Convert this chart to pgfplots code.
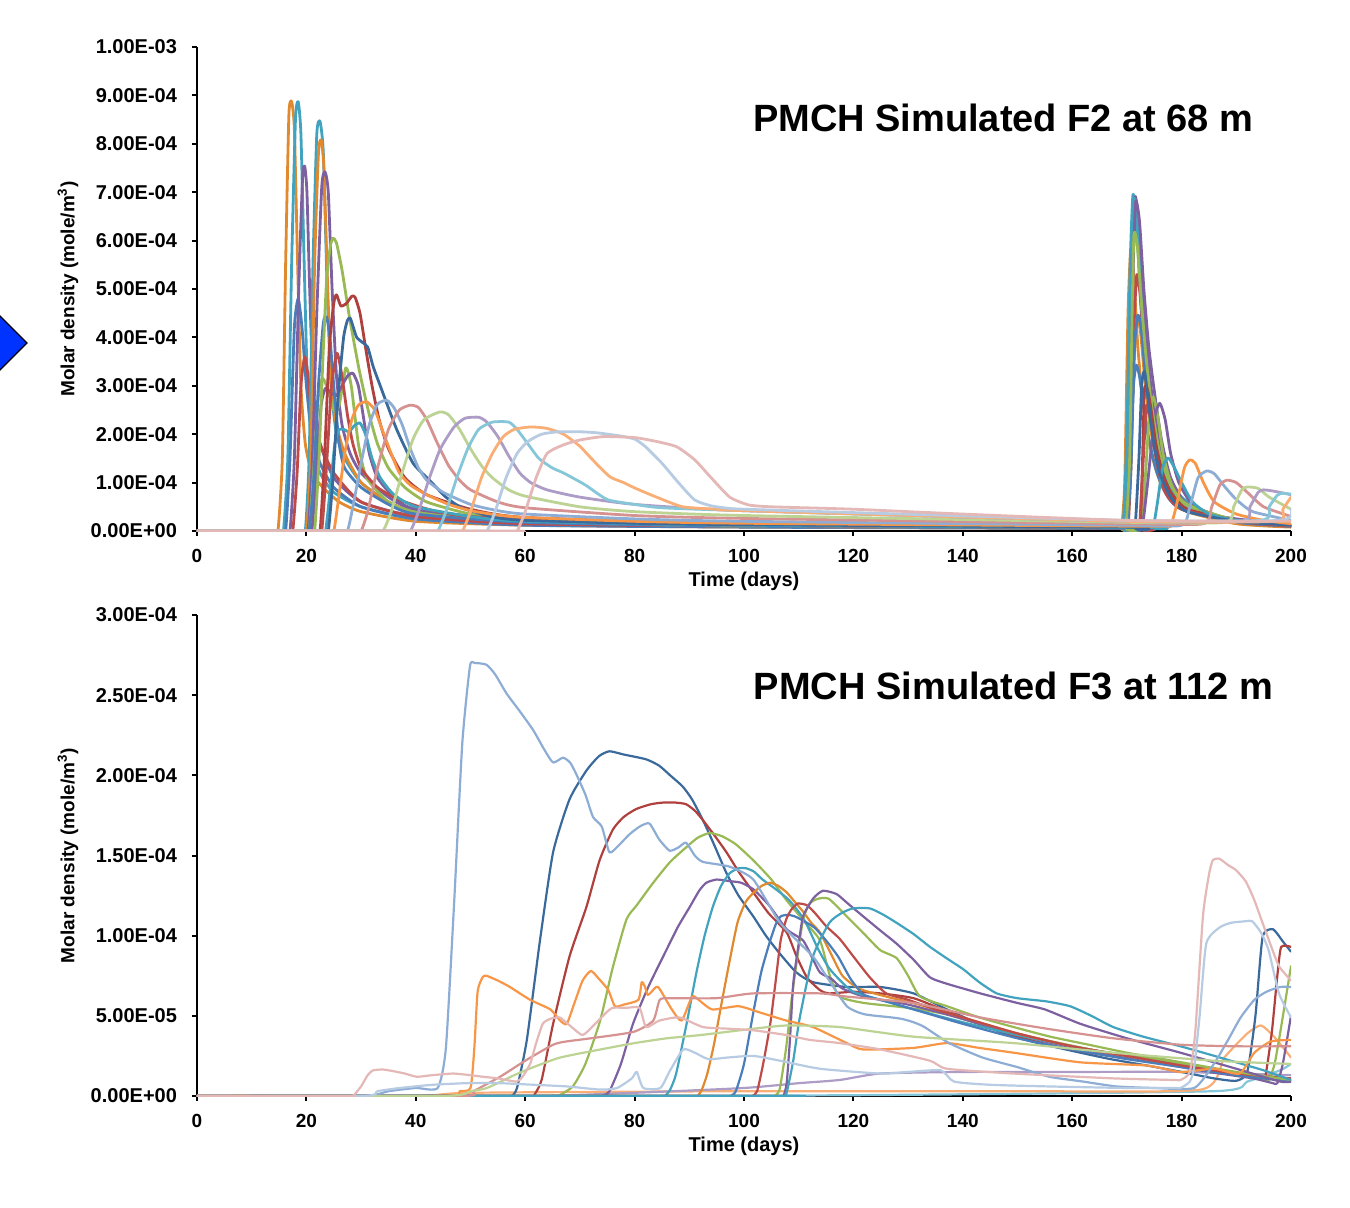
\documentclass[border=0pt]{standalone}
\usepackage{fontspec}
\setmainfont{Liberation Sans}
\usepackage{pgfplots}
\pgfplotsset{compat=1.18}
\definecolor{cB}{HTML}{4A7EBB}
\definecolor{cBd}{HTML}{3A6A9C}
\definecolor{cR}{HTML}{BE4B48}
\definecolor{cRd}{HTML}{B0403D}
\definecolor{cG}{HTML}{98B954}
\definecolor{cP}{HTML}{7D60A0}
\definecolor{cT}{HTML}{41A3BE}
\definecolor{cO}{HTML}{F79646}
\definecolor{cOd}{HTML}{E0892E}
\definecolor{cLB}{HTML}{8DADD5}
\definecolor{cLR}{HTML}{D69290}
\definecolor{cLG}{HTML}{BCD393}
\definecolor{cLP}{HTML}{AD9CC6}
\definecolor{cLT}{HTML}{86C6D9}
\definecolor{cLO}{HTML}{F9AE76}
\definecolor{cGB}{HTML}{B7CBE3}
\definecolor{cPP}{HTML}{E3B8B6}
\definecolor{diam}{HTML}{0033FF}
\pgfplotsset{
  common/.style={
    scale only axis, width=547pt, xmin=0, xmax=200,
    axis lines=left, axis line style={-, line width=1pt},
    tick align=outside, major tick length=2.5pt,
    tick style={line width=1pt, black},
    xtick={0,20,...,200},
    /pgf/number format/assume math mode=true,
    xticklabel style={font=\bfseries\fontsize{9.5}{11}\selectfont, yshift=-3pt},
    yticklabel style={font=\bfseries\fontsize{10}{12}\selectfont, xshift=-4pt},
    xlabel={Time (days)},
    ylabel={Molar density (mole/m\textsuperscript{3})},
    xlabel style={font=\bfseries\fontsize{10}{12}\selectfont, at={(axis description cs:0.5,-0.105)}, anchor=center},
    ylabel style={font=\bfseries\fontsize{9.5}{11}\selectfont, at={(axis description cs:-0.118,0.5)}, anchor=center},
    every axis plot/.append style={smooth, tension=0.35, line join=round, line cap=round},
  }
}
\begin{document}
\begin{tikzpicture}
\path[use as bounding box] (0,0) rectangle (675pt,-604pt);
\filldraw[fill=diam, draw=black, line width=0.6pt] (-13.5pt,-171.5pt) -- (0,-158pt) -- (13.5pt,-171.5pt) -- (0,-185pt) -- cycle;
% ---------------- top panel ----------------
\begin{axis}[common, at={(98.5pt,-265.5pt)}, anchor=south west, height=242pt,
  ymin=0, ymax=10, ytick={0,1,...,10},
  yticklabels={0.00E+00,1.00E-04,2.00E-04,3.00E-04,4.00E-04,5.00E-04,6.00E-04,7.00E-04,8.00E-04,9.00E-04,1.00E-03},
  every axis plot/.append style={line width=1.4pt}]
\addplot[cOd] coordinates {(0,0)(14,0)(14.8,0)(15.6,1.5)(16.2,5.5)(16.8,8.6)(17.3,8.87)(17.8,8.3)(18.4,5.5)(19,3)(19.8,1.8)(21,1.2)(23,0.9)(26,0.6)(30,0.4)(40,0.2)(60,0.12)(100,0.08)(168.2,0.05)(169,0.05)(169.6,1)(170.2,4.5)(170.7,5.8)(171.3,5.2)(172,3.8)(173,2.6)(174.5,1.6)(176.5,0.9)(180,0.45)(190,0.15)(200,0.08)};
\addplot[cT] coordinates {(0,0)(15,0)(15.8,0)(16.6,1.5)(17.3,5.5)(18,8.5)(18.5,8.87)(19,8.2)(19.6,5.5)(20.2,3)(21,1.8)(22.5,1.2)(25,0.8)(30,0.5)(40,0.25)(60,0.15)(100,0.1)(168.5,0.06)(169.3,0.06)(170,2)(170.6,5.5)(171.1,6.94)(171.7,6.5)(172.4,5)(173.2,3.8)(174.2,3.0)(175.5,2.0)(177,1.3)(180,0.7)(185,0.35)(190,0.2)(200,0.1)};
\addplot[cB] coordinates {(0,0)(15.4,0)(16.2,0)(17,1.5)(17.8,4.2)(18.5,4.8)(19.2,4.2)(20,3)(21,2)(22.5,1.4)(25,0.9)(30,0.5)(40,0.25)(60,0.12)(100,0.08)(169,0.05)(169.8,0.05)(170.6,1.5)(171.2,3)(171.7,3.43)(172.3,3.2)(173,2.6)(174,1.9)(175.5,1.2)(177.5,0.7)(180,0.45)(190,0.18)(200,0.1)};
\addplot[cP] coordinates {(0,0)(16.2,0)(17,0)(17.8,1.5)(18.6,5)(19.3,7.3)(19.7,7.53)(20.1,7)(20.6,5)(21.2,3)(21.8,2.4)(22.5,1.8)(25,1.1)(30,0.6)(40,0.3)(60,0.15)(100,0.1)(168.8,0.06)(169.6,0.06)(170.3,1.5)(170.9,5.5)(171.5,6.9)(172.1,6.4)(172.8,5.0)(173.6,3.8)(174.6,2.8)(176,1.8)(178,1.0)(181,0.55)(190,0.2)(200,0.1)};
\addplot[cR] coordinates {(0,0)(16.7,0)(17.5,0)(18.3,1.2)(19,3)(19.7,3.6)(20.3,3.2)(21,2.4)(22.5,1.8)(25,1.2)(30,0.6)(40,0.3)(60,0.15)(100,0.1)(169.4,0.06)(170.2,0.06)(170.8,1.5)(171.3,4.2)(171.8,5.29)(172.4,4.9)(173.2,3.6)(174.2,2.6)(175.5,1.7)(177.5,1.0)(180,0.6)(190,0.2)(200,0.1)};
\addplot[cT] coordinates {(0,0)(19,0)(19.8,0)(20.5,1.5)(21.2,5.5)(21.9,8.2)(22.5,8.46)(23.1,7.8)(23.8,5)(24.5,3)(25.5,2.0)(27,1.5)(30,1.0)(35,0.6)(40,0.4)(60,0.2)(100,0.1)(168.7,0.06)(169.5,0.06)(170.2,1.5)(170.8,5)(171.3,6.85)(171.9,6.3)(172.6,4.8)(173.5,3.4)(174.5,2.5)(176,1.6)(178,0.9)(181,0.5)(190,0.2)(200,0.1)};
\addplot[cOd] coordinates {(0,0)(19.2,0)(20,0)(20.8,1.5)(21.5,5.5)(22.2,7.8)(22.7,8.08)(23.2,7.5)(23.9,5)(24.6,3)(25.5,2.2)(27,1.6)(30,1.0)(35,0.6)(40,0.4)(60,0.2)(100,0.1)(169.1,0.06)(169.9,0.06)(170.6,1.5)(171.3,3.5)(171.9,4.4)(172.5,4.1)(173.3,3.1)(174.5,2.0)(176,1.2)(178,0.7)(181,0.4)(190,0.16)(200,0.1)};
\addplot[cP] coordinates {(0,0)(19.5,0)(20.3,0)(21.1,1.5)(21.9,4.5)(22.8,7.1)(23.4,7.42)(24,7)(24.7,5)(25.5,3.2)(26.5,2.2)(28,1.6)(30,1.2)(35,0.7)(40,0.45)(60,0.2)(100,0.1)(169,0.06)(169.8,0.06)(170.5,1.5)(171.1,5.2)(171.6,6.8)(172.3,6.4)(173.1,5.0)(174,3.8)(175,2.9)(176.3,1.9)(178,1.1)(181,0.55)(190,0.2)(200,0.1)};
\addplot[cG] coordinates {(0,0)(19.7,0)(20.5,0)(21.3,1.2)(22.2,2.8)(23,3.15)(24,2.9)(25,2.5)(26,2.6)(27.2,3.37)(28.2,3)(29.5,1.8)(31,1.1)(35,0.6)(40,0.4)(60,0.2)(100,0.1)(171.8,0.07)(172.5,0.07)(173.3,1)(174.1,2.4)(174.8,2.77)(175.6,2.4)(176.6,1.6)(178,1)(180,0.6)(185,0.3)(190,0.2)(200,0.1)};
\addplot[cP] coordinates {(0,0)(20.2,0)(21,0)(21.8,1.2)(22.7,2.6)(23.5,2.95)(24.5,2.85)(25.5,2.8)(26.5,3)(27.5,3.2)(28.5,3.26)(29.5,3)(30.5,2.3)(31.5,1.6)(33,1.1)(36,0.7)(40,0.45)(60,0.2)(100,0.12)(172,0.07)(172.8,0.07)(173.8,1)(175,2.3)(176,2.64)(177,2.3)(178,1.6)(179.5,1)(182,0.55)(187,0.3)(200,0.12)};
\addplot[cB] coordinates {(0,0)(19.7,0)(20.5,0)(21.3,1)(22.2,3)(23.1,4.3)(23.7,4.42)(24.3,4)(25,3)(26,1.8)(27,1.3)(30,0.9)(35,0.55)(40,0.35)(60,0.18)(100,0.1)(169.2,0.06)(170,0.06)(170.7,1.2)(171.4,3.8)(172,4.46)(172.6,4.2)(173.4,3.2)(174.5,2.2)(176,1.4)(178,0.8)(181,0.45)(190,0.18)(200,0.1)};
\addplot[cG] coordinates {(0,0)(20.7,0)(21.5,0)(22.3,1.5)(23,3.5)(23.7,5.2)(24.4,5.9)(24.9,6.05)(25.5,5.95)(26.5,5.4)(27.9,4.4)(29.7,3.3)(31.5,2.4)(33,1.8)(35,1.3)(38,0.9)(42,0.6)(50,0.35)(60,0.22)(100,0.12)(169,0.07)(169.8,0.07)(170.5,1.5)(171,4.8)(171.3,6.15)(171.9,5.9)(172.6,4.8)(173.5,3.6)(174.5,2.6)(176,1.6)(178,0.95)(181,0.55)(190,0.22)(200,0.12)};
\addplot[cRd] coordinates {(0,0)(21.7,0)(22.5,0)(23.3,1.5)(24.2,3.8)(25,4.7)(25.5,4.88)(26.3,4.65)(27.3,4.7)(28.3,4.85)(28.9,4.83)(29.8,4.5)(30.8,3.8)(32,3)(33.3,2.3)(35,1.7)(38,1.1)(42,0.75)(50,0.45)(60,0.28)(100,0.14)(171.7,0.1)(172.4,0.1)(172.8,1.2)(173.2,2.9)(173.7,2.95)(174.3,2.6)(175.3,1.8)(176.5,1.2)(178,0.8)(181,0.45)(190,0.22)(200,0.12)};
\addplot[cR] coordinates {(0,0)(22,0)(22.8,0)(23.6,1.2)(24.6,3)(25.6,3.67)(26.5,3.2)(27.5,2.4)(28.5,1.8)(30,1.3)(33,0.9)(38,0.6)(50,0.3)(100,0.12)(171.6,0.07)(172.3,0.07)(173,1.5)(173.6,2.6)(174.3,2.3)(175.5,1.4)(177,0.8)(180,0.45)(190,0.2)(200,0.1)};
\addplot[cT] coordinates {(0,0)(22.7,0)(23.5,0)(24.3,0.8)(25.2,1.8)(25.9,2.09)(26.8,2.1)(27.8,2.05)(28.8,2.18)(29.8,2.23)(30.8,2.0)(32,1.5)(33.5,1.1)(36,0.75)(40,0.5)(50,0.3)(60,0.2)(100,0.12)(174,0.07)(174.8,0.07)(175.6,0.6)(176.5,1.3)(177.5,1.51)(178.5,1.35)(180,1)(182,0.6)(185,0.35)(190,0.22)(200,0.12)};
\addplot[cBd] coordinates {(0,0)(23.2,0)(24,0)(24.8,1)(25.8,2.8)(26.8,4)(27.5,4.35)(28,4.4)(28.6,4.2)(29.2,4.0)(30.2,3.9)(31.2,3.8)(32.2,3.4)(33.5,3.0)(36.5,2.1)(39.5,1.4)(42.5,1.05)(45.5,0.7)(48.6,0.47)(54.6,0.28)(60,0.22)(80,0.16)(100,0.13)(170.8,0.08)(171.5,0.08)(172.2,1.5)(172.7,3)(173.2,3.3)(173.8,2.8)(174.8,1.9)(176,1.2)(178,0.7)(181,0.4)(190,0.2)(200,0.12)};
\addplot[cO] coordinates {(0,0)(24,0)(25,0)(25.8,0.6)(27,1.6)(28.3,2.3)(29.5,2.6)(31,2.67)(32.5,2.5)(34,2.05)(35.5,1.6)(37,1.2)(39,0.95)(42,0.75)(46,0.55)(50,0.42)(55,0.33)(60,0.28)(80,0.2)(100,0.16)(170,0.1)(177.3,0.1)(178,0.1)(179,0.5)(180.5,1.3)(181.5,1.47)(182.5,1.4)(184,1.0)(186,0.6)(190,0.35)(195,0.22)(200,0.15)};
\addplot[cLB] coordinates {(0,0)(26.3,0)(27.5,0)(28.5,0.5)(30,1.4)(31.5,2.2)(33,2.62)(34.7,2.7)(36,2.55)(37.5,2.2)(39,1.7)(40.5,1.3)(42,1.05)(45,0.8)(50,0.55)(55,0.42)(60,0.35)(80,0.25)(100,0.2)(170,0.12)(180,0.12)(181.5,0.5)(183,1.1)(184.6,1.24)(186,1.18)(188,0.9)(190,0.65)(193,0.4)(200,0.22)};
\addplot[cLR] coordinates {(0,0)(28.8,0)(30,0)(31.2,0.4)(33,1.3)(35,2.1)(37,2.5)(39,2.6)(40.5,2.55)(42,2.3)(44,1.8)(46,1.35)(48,1.05)(50,0.85)(55,0.6)(60,0.48)(80,0.32)(100,0.26)(170,0.15)(184,0.15)(185.5,0.5)(187,0.95)(188.3,1.05)(190,1.0)(192,0.8)(195,0.5)(200,0.3)};
\addplot[cLG] coordinates {(0,0)(32.5,0)(34,0)(35.5,0.4)(37.5,1.2)(39.5,1.9)(41.5,2.3)(44.4,2.46)(46,2.4)(48,2.1)(50,1.7)(52,1.35)(54,1.1)(57,0.85)(60,0.72)(70,0.5)(80,0.4)(100,0.32)(170,0.18)(188,0.18)(189.5,0.5)(191,0.85)(192,0.91)(194,0.88)(196,0.7)(200,0.45)};
\addplot[cLP] coordinates {(0,0)(37.5,0)(39,0)(40.5,0.4)(42.5,1.1)(44.5,1.7)(47,2.15)(49,2.33)(51.5,2.35)(53,2.25)(55,1.95)(57,1.55)(59,1.2)(61,1.0)(64,0.85)(70,0.7)(80,0.55)(100,0.42)(170,0.2)(191,0.2)(192.5,0.5)(194,0.8)(195,0.85)(197,0.82)(200,0.75)};
\addplot[cLT] coordinates {(0,0)(42.5,0)(44,0)(45.5,0.4)(47.5,1.1)(49.5,1.7)(51.5,2.1)(54,2.25)(57,2.25)(58.5,2.1)(60.5,1.8)(62.5,1.5)(65,1.3)(67,1.2)(71,0.95)(75,0.65)(80,0.55)(85,0.48)(100,0.42)(170,0.2)(194.5,0.22)(196,0.5)(197.5,0.74)(198.5,0.78)(200,0.76)};
\addplot[cLO] coordinates {(0,0)(47,0)(48.5,0)(50,0.4)(52,1.1)(54,1.6)(56,1.95)(58,2.1)(61,2.15)(64,2.12)(67,2.0)(70,1.75)(72.5,1.45)(75.5,1.12)(78,1.0)(80,0.89)(84,0.7)(88.8,0.5)(95,0.45)(100,0.42)(170,0.2)(197,0.2)(198.5,0.45)(200,0.7)};
\addplot[cGB] coordinates {(0,0)(51.5,0)(53,0)(54.5,0.4)(56.5,1.1)(58.5,1.6)(60.5,1.85)(63,2.0)(66,2.05)(70,2.05)(73,2.03)(77,1.97)(80,1.9)(82,1.74)(85,1.4)(88,1.0)(91,0.64)(94,0.52)(97,0.47)(100,0.45)(120,0.38)(170,0.22)(198,0.22)(200,0.45)};
\addplot[cPP] coordinates {(0,0)(57,0)(58.5,0)(60,0.4)(62,1.1)(64,1.6)(67,1.78)(70,1.88)(74.3,1.95)(80,1.93)(84,1.85)(87.7,1.74)(91,1.47)(94,1.1)(97.4,0.7)(100.8,0.54)(105,0.5)(120,0.45)(140,0.35)(170,0.22)(200,0.2)};
\node[font=\bfseries\fontsize{19}{22}\selectfont] at (axis cs:147.4,8.53) {PMCH Simulated F2 at 68 m};
\end{axis}
% ---------------- bottom panel ----------------
\begin{axis}[common, at={(98.5pt,-548pt)}, anchor=south west, height=240.5pt,
  ymin=0, ymax=30, ytick={0,5,...,30},
  yticklabels={0.00E+00,5.00E-05,1.00E-04,1.50E-04,2.00E-04,2.50E-04,3.00E-04},
  every axis plot/.append style={line width=1.1pt}]
\addplot[cLT] coordinates {(0,0)(60,0)(120,0.05)(185.9,0.3)(192,0.9)(198,1.6)(200,2.0)};
\addplot[cLO] coordinates {(0,0)(40,0)(50,0.2)(100,0.3)(150,0.3)(183.5,0.4)(187.8,2.4)(192,3.9)(194.5,4.4)(196.9,3.7)(200,2.4)};
\addplot[cLP] coordinates {(0,0)(60,0)(80,0.2)(100,0.5)(110,0.8)(117.5,1.0)(124.9,1.4)(140,1.5)(160,1.5)(180,1.5)(200,1.3)};
\addplot[cBd] coordinates {(0,0)(56.5,0)(57.5,0)(58.5,0.5)(60.3,3.5)(62.7,9.7)(65.1,15.2)(68.1,18.5)(71.2,20.3)(73.5,21.2)(75.4,21.5)(78,21.3)(82.1,21.0)(84.5,20.6)(86.5,20.0)(88.8,19.3)(90.5,18.5)(92.5,17.2)(94.5,15.7)(96.8,13.9)(99,12.5)(101.7,11.2)(104,10.0)(106.5,8.9)(109.6,7.7)(112.6,7.1)(118.8,6.8)(124.9,6.8)(131,6.4)(137.1,5.4)(143,4.5)(149.3,3.7)(155,3.2)(161.5,2.7)(167,2.3)(173.7,1.9)(180,1.5)(185.9,1.1)(190,0.95)(192,1.5)(193.5,5)(194.8,9.9)(196.7,10.4)(198.6,9.6)(200,9.0)};
\addplot[cRd] coordinates {(0,0)(60.5,0)(61.5,0)(63,1)(65.1,4.5)(68.1,8.7)(71.2,11.8)(73.6,14.7)(76,16.6)(78,17.4)(80.3,17.9)(83,18.2)(85.2,18.3)(87.5,18.3)(89.4,18.2)(91,17.8)(92.5,17.2)(94.5,16.3)(96.8,15.2)(99,14.0)(101.7,12.7)(104.5,11.4)(107.8,10.2)(109.5,8.8)(111.5,7.4)(113.9,6.6)(115.5,6.4)(120,6.5)(124.9,6.4)(131,6.1)(137,5.3)(143,4.5)(150,3.7)(157,3.1)(165,2.6)(172,2.3)(179.8,2.0)(186,1.6)(192,1.3)(194.5,1.2)(195.3,1.2)(196.5,4)(197.5,7.5)(198.2,9.3)(200,9.3)};
\addplot[cG] coordinates {(0,0)(65,0)(66,0)(68.7,0.6)(71,2)(73.7,4.7)(76,8)(78.5,11)(80.4,11.9)(83.4,13.3)(86.5,14.6)(89.4,15.5)(91.5,16.1)(93.7,16.4)(96,16.2)(98.5,15.7)(101.7,14.7)(105,13.5)(107.8,12.2)(111,10.9)(113.9,9.7)(115.7,7.5)(117.5,6.2)(122,5.8)(130,5.5)(137,5.1)(145,4.3)(155,3.5)(165,2.8)(175,2.3)(185,1.7)(192,1.2)(195.3,1.0)(196,1.0)(197,2)(198,3.9)(199,6)(200,8.1)};
\addplot[cP] coordinates {(0,0)(73,0)(74,0)(75.4,0.3)(77.5,2)(79.7,4.5)(82.5,6.8)(85.8,9.1)(88,10.6)(90.1,11.8)(91.8,12.8)(93.1,13.3)(95,13.5)(97.4,13.4)(99.5,13.3)(101.7,12.9)(103.2,12.4)(104.8,11.8)(107.8,10.4)(110.8,9.7)(112.5,8.6)(113.9,7.7)(116,7.3)(118,6.7)(122,6.2)(130,5.7)(138,5.0)(146,4.2)(155,3.4)(165,2.7)(175,2.1)(185,1.5)(193,1.1)(196.7,0.8)(197.5,0.8)(198.5,2)(200,5.0)};
\addplot[cT] coordinates {(0,0)(84.5,0)(85.5,0)(86.5,0.4)(87.6,1.4)(89.5,4.5)(91.3,7.7)(92.8,10)(94.3,11.8)(95.8,13.1)(97.4,13.9)(99,14.2)(100.4,14.2)(101.8,14.0)(103.4,13.5)(105.8,12.9)(108.3,12.2)(111,11.0)(113.5,9.2)(115.5,8.0)(117.6,7.2)(120,6.5)(125,6.0)(130,5.5)(140,4.6)(150,3.8)(160,3.1)(170,2.5)(180,1.9)(190,1.4)(200,1.0)};
\addplot[cOd] coordinates {(0,0)(90.5,0)(91.5,0)(92.3,0.4)(93.3,1.4)(94.5,3.2)(95.8,5.6)(97.3,8.3)(98.8,10.8)(100.3,12.1)(101.8,12.7)(103.2,13.1)(104.8,13.3)(106.3,13.1)(107.8,12.7)(109.3,12.1)(110.8,11.5)(112.3,10.8)(113.9,10.2)(116,8.8)(118,7.5)(121,6.7)(126,6.2)(132,5.7)(140,4.9)(150,3.9)(160,3.1)(170,2.5)(180,1.9)(190,1.4)(200,1.0)};
\addplot[cB] coordinates {(0,0)(96.5,0)(97.5,0)(98.5,0.3)(100,2)(101.7,5.2)(103.2,7.8)(104.8,9.7)(105.8,10.7)(106.7,11.2)(108,11.3)(109.3,11.2)(111,10.9)(112.9,10.5)(115,9.7)(117.2,8.7)(119.5,7.3)(122,6.3)(127,5.8)(133,5.2)(140,4.5)(150,3.6)(160,2.9)(170,2.3)(180,1.8)(190,1.3)(200,0.9)};
\addplot[cR] coordinates {(0,0)(100.5,0)(101.5,0)(102.4,0.3)(103.5,2)(104.8,4.5)(105.8,7.2)(106.7,9.7)(107.7,11.0)(108.6,11.6)(109.8,12.0)(111.5,11.9)(113,11.4)(115,10.6)(117.5,9.8)(120,8.7)(123,7.4)(126,6.4)(130,6.0)(135,5.4)(140,4.9)(150,3.9)(160,3.1)(170,2.5)(180,1.9)(190,1.4)(200,1.1)};
\addplot[cG] coordinates {(0,0)(104.5,0)(105.5,0)(106.5,0.4)(107.7,3)(108.7,6)(109.6,8.3)(110.8,11.0)(112,12.0)(113.5,12.3)(115.5,12.3)(118.8,11.2)(122,10.1)(124.9,9.1)(127.9,8.6)(130,7.5)(132.2,6.2)(137.1,5.6)(143,4.9)(149.3,4.3)(156,3.7)(163,3.2)(170,2.7)(180,2.1)(190,1.5)(200,1.0)};
\addplot[cP] coordinates {(0,0)(106.4,0)(107.2,0)(107.8,0.8)(108.4,3.5)(109,7.0)(110,9.5)(110.8,11.2)(112.6,12.3)(114.4,12.8)(116.9,12.6)(119,12.0)(121.8,11.2)(125,10.3)(127.9,9.5)(131,8.5)(134,7.4)(137.1,7.0)(143.2,6.4)(150,5.8)(155,5.4)(161.5,4.5)(170,3.6)(179.8,2.7)(190,1.7)(198,0.9)(200,0.9)};
\addplot[cT] coordinates {(0,0)(106.4,0)(107.2,0)(107.8,0.2)(109,2.2)(110.2,4.9)(112.6,8.7)(115.6,10.8)(117.8,11.4)(119.9,11.7)(123,11.7)(125.5,11.3)(127.9,10.8)(131,10.1)(134,9.3)(137,8.6)(140.1,7.9)(143,7.1)(146.2,6.4)(150,6.1)(155.3,5.9)(159.6,5.6)(163.5,5.0)(167.5,4.3)(173,3.7)(179.8,3.1)(185,2.6)(189,2.2)(195,1.6)(200,1.0)};
\addplot[cO] coordinates {(0,0)(45,0)(48,0.3)(50,0.5)(50.7,3)(51.3,6.5)(52.2,7.4)(52.9,7.5)(55,7.2)(57.2,6.8)(60.9,6.0)(64.6,5.4)(66.4,4.7)(67.6,4.5)(69,5.8)(70.5,7.2)(72,7.8)(73.5,7.3)(75.2,6.6)(76.4,5.6)(78,5.7)(80.7,6.0)(81.3,7.1)(81.9,6.8)(82.4,6.3)(83.1,6.5)(84.3,6.8)(86.8,5.4)(88.6,4.7)(90.5,6.2)(91.7,6.0)(94.2,5.4)(99,5.6)(103,5.2)(107.8,4.7)(112.6,4.3)(118.8,3.3)(121.8,2.9)(131,3.0)(137.1,3.3)(143,3.0)(149.3,2.7)(161.5,2.1)(173.7,1.9)(179.8,1.5)(185.9,1.7)(190.6,1.4)(193.3,2.7)(196.3,3.4)(200,3.5)};
\addplot[cLB] coordinates {(0,0)(30,0)(35,0.3)(40,0.5)(44,0.5)(45.5,3)(47,12)(48.5,22)(49.9,26.8)(50.8,27.0)(52.9,26.9)(54.5,26.3)(56.6,25.1)(59,24)(61.5,22.8)(63.5,21.6)(65.1,20.8)(66.9,21.1)(68.2,20.8)(69.3,20.1)(71,18.8)(72.4,17.4)(74,16.8)(75.4,15.2)(77,15.6)(79,16.3)(80.9,16.8)(82.7,17.0)(84.5,16.0)(86.4,15.3)(88,15.5)(89.4,15.8)(91,15.0)(92.5,14.6)(97.4,14.3)(101.7,13.5)(106.6,10.8)(112.6,8.7)(115,7.5)(118.8,5.6)(122,5.1)(127,4.9)(129,4.8)(131,4.6)(133,4.3)(137.5,3.3)(143.6,2.4)(150,1.8)(155.8,1.2)(162,0.9)(168,0.6)(175,0.5)(182.3,0.5)(185.9,2.0)(188.5,3.5)(190.8,4.9)(193.3,6.0)(195.5,6.5)(198,6.8)(200,6.8)};
\addplot[cLR] coordinates {(0,0)(48,0)(50.5,0.3)(55.4,1.2)(60,2.2)(65.1,3.2)(67.5,3.4)(72,3.6)(79.8,4.0)(83.4,4.7)(84.6,6.0)(86.6,6.1)(94.9,6.1)(101.7,6.4)(113.9,6.4)(118.8,6.2)(131,5.8)(143.2,4.9)(155.3,4.2)(167.5,3.6)(179.8,3.2)(190,3.1)(200,3.1)};
\addplot[cLG] coordinates {(0,0)(45,0)(50,0.3)(53,0.5)(58,1.3)(61.5,1.8)(66.4,2.4)(73.7,2.9)(80,3.3)(85.9,3.6)(92,3.8)(101.8,4.2)(108,4.4)(117.5,4.3)(131,3.7)(149.3,3.3)(167.5,2.7)(185.9,2.2)(200,2.0)};
\addplot[cGB] coordinates {(0,0)(30.4,0)(33,0.3)(37.1,0.5)(43.1,0.7)(49.3,0.8)(55.4,0.8)(61.5,0.7)(67.5,0.6)(73.7,0.4)(76.8,0.5)(79.5,1.1)(80.4,1.5)(81.6,0.5)(84.7,0.5)(86.5,1.6)(88.9,2.9)(91,2.7)(93.5,2.3)(97,2.4)(101.7,2.5)(106.6,2.2)(113.9,1.7)(124.9,1.4)(130,1.5)(136,1.6)(138.4,0.9)(145,0.7)(155.3,0.6)(170,0.5)(178.5,0.5)(179.8,0.5)(181.5,0.9)(182.3,1.8)(183.3,5)(184.5,9.5)(186.9,10.5)(189,10.8)(191.7,10.9)(192.9,10.9)(194.5,10.2)(195.9,9.1)(197.8,6.4)(200,4.9)};
\addplot[cPP] coordinates {(0,0)(27.5,0)(28.5,0)(30,0.6)(31.2,1.3)(32.2,1.6)(34,1.65)(35.9,1.55)(38,1.4)(40.2,1.2)(43,1.3)(46.8,1.4)(50,1.3)(52.3,1.2)(55,1.1)(58.4,0.9)(59.5,1.2)(60.9,2.0)(62,3.3)(63.2,4.5)(64.5,4.8)(66.3,4.9)(68.5,4.3)(70.5,3.8)(72.5,4.4)(74.8,5.2)(76,5.5)(78.5,5.5)(80.9,5.5)(82.1,4.3)(84.5,4.7)(88.2,4.9)(92.5,4.3)(97,4.2)(101.7,4.1)(107.8,3.8)(112,3.5)(117.5,3.3)(125,2.9)(134,2.2)(137.1,1.7)(149.3,1.4)(167.5,1.1)(178.5,1.0)(179.8,1.0)(181.5,1.5)(182.5,4)(183.9,11.2)(185,13.8)(185.7,14.7)(186.9,14.8)(188.5,14.4)(189.9,14.1)(191.7,13.4)(193.2,12.3)(194.8,10.8)(196.3,9.4)(197.8,8.1)(200,7.2)};
\node[font=\bfseries\fontsize{19}{22}\selectfont] at (axis cs:149.3,25.57) {PMCH Simulated F3 at 112 m};
\end{axis}
\end{tikzpicture}
\end{document}
